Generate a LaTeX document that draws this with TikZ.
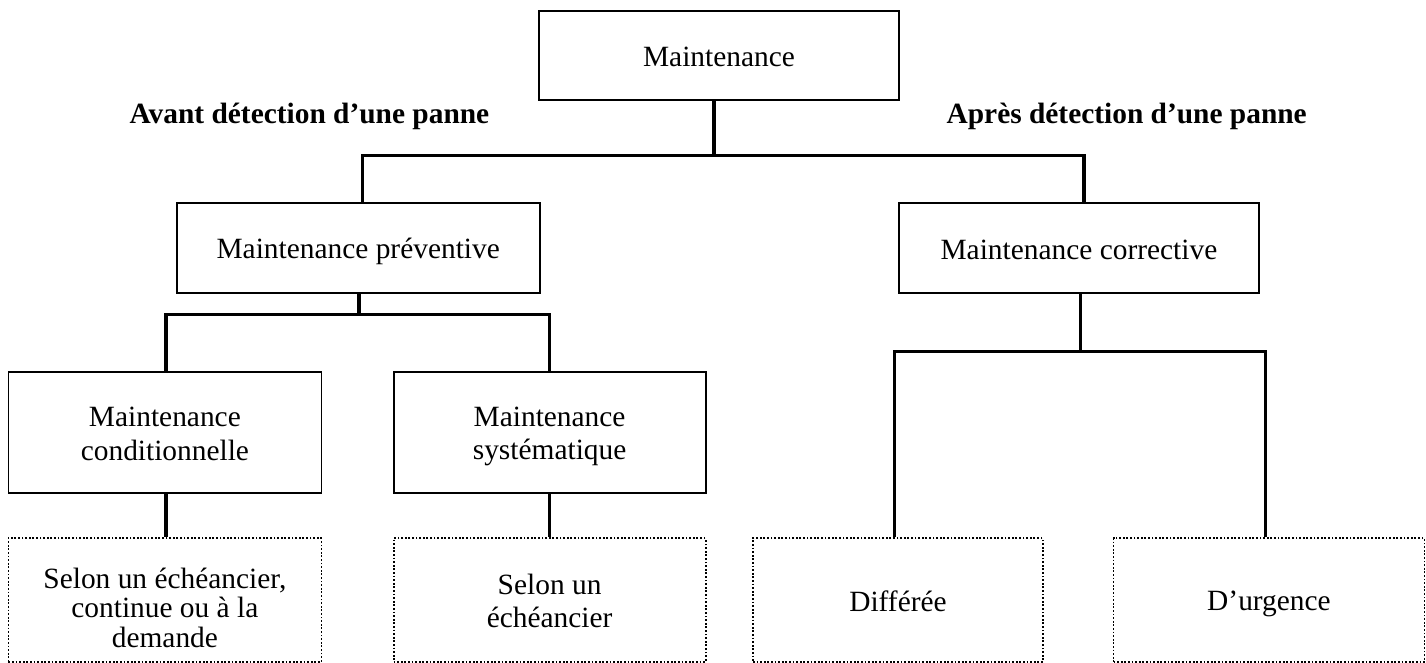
\documentclass[tikz,border=0pt]{standalone}
\usepackage{fontspec}
\setmainfont{Liberation Serif}
\newcommand\mystrut{\vrule height 13.8pt depth 2.8pt width 0pt}
\begin{document}
\begin{tikzpicture}[x=0.5pt,y=-0.5pt,
  box/.style={draw, line width=0.9pt, inner sep=0pt, align=center,
    font=\fontsize{14.7}{16.6}\selectfont},
  dbox/.style={box, dash pattern=on 0.9pt off 0.9pt},
  conn/.style={line width=1.6pt},
  lbl/.style={font=\fontsize{14.7}{16.6}\selectfont\bfseries, inner sep=0pt}]
\useasboundingbox (0,0) rectangle (1426,663);

\node[box, minimum width=180pt, minimum height=44.5pt] (top) at (719,55.5) {Maintenance\mystrut};
\node[lbl] (avant) at (309.5,113) {Avant détection d’une panne\mystrut};
\node[lbl] (apres) at (1126.7,113) {Après détection d’une panne\mystrut};

\node[box, minimum width=181.4pt, minimum height=45pt] (prev) at (358.2,248.3) {Maintenance préventive\mystrut};
\node[box, minimum width=180pt, minimum height=45pt] (corr) at (1078.9,248.3) {Maintenance corrective\mystrut};

\node[box, minimum width=156.5pt, minimum height=60.8pt] (cond) at (164.9,432.5) {Maintenance\mystrut\\conditionnelle\mystrut};
\node[box, minimum width=156pt, minimum height=60.8pt] (syst) at (549.6,432.5) {Maintenance\mystrut\\systématique\mystrut};

\node[dbox, minimum width=156.5pt, minimum height=61.7pt, font=\fontsize{14.7}{14.6}\selectfont] (d1) at (164.9,600) {Selon un échéancier,\vrule height 18pt width 0pt\\continue ou à la\\demande};
\node[dbox, minimum width=156pt, minimum height=61.7pt] (d2) at (549.6,600) {Selon un\mystrut\\échéancier\mystrut};
\node[dbox, minimum width=145pt, minimum height=61.7pt] (d3) at (898,600) {Différée\mystrut};
\node[dbox, minimum width=155.5pt, minimum height=61.7pt] (d4) at (1269,600) {D’urgence\mystrut};

% level 1
\coordinate (j1) at (714,155.7);
\coordinate (hL) at (362.7,155.7);
\coordinate (hR) at (1084,155.7);
\draw[conn] (top.south -| j1) -- (j1);
\draw[conn] (prev.north -| hL) -- (hL) -- (hR) -- (corr.north -| hR);

% level 2 left
\coordinate (j2) at (359,314.5);
\coordinate (lL) at (166,314.5);
\coordinate (lR) at (549.6,314.5);
\draw[conn] (prev.south -| j2) -- (j2);
\draw[conn] (cond.north -| lL) -- (lL) -- (lR) -- (syst.north -| lR);
\draw[conn] (cond.south -| lL) -- (d1.north -| lL);
\draw[conn] (syst.south -| lR) -- (d2.north -| lR);

% level 2 right
\coordinate (j3) at (1080.5,351.7);
\coordinate (rL) at (894.4,351.7);
\coordinate (rR) at (1265.7,351.7);
\draw[conn] (corr.south -| j3) -- (j3);
\draw[conn] (d3.north -| rL) -- (rL) -- (rR) -- (d4.north -| rR);
\end{tikzpicture}
\end{document}
